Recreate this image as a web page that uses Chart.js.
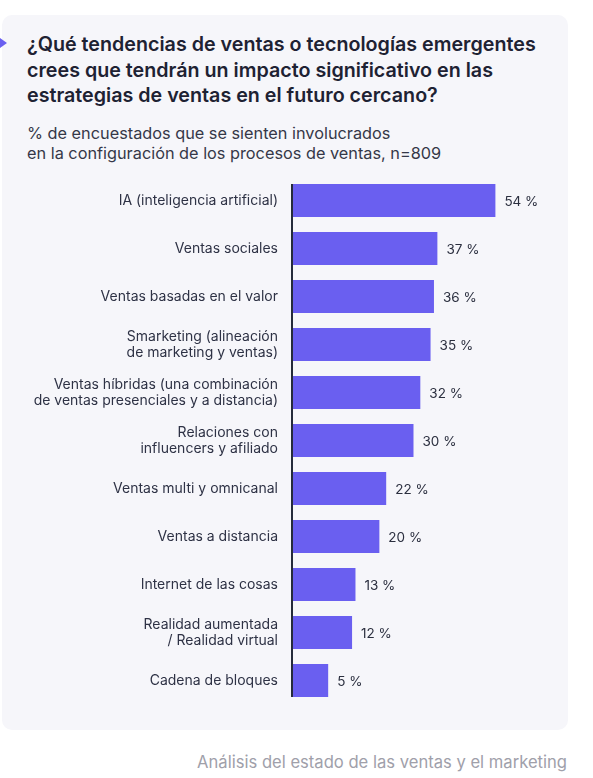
<!DOCTYPE html>
<html>
<head>
<meta charset="utf-8">
<script src="https://cdn.jsdelivr.net/npm/chart.js@4.4.1/dist/chart.umd.min.js"></script>
<style>
  body { margin: 0; background: #fff; font-family: Inter, "Noto Sans", sans-serif; }
  #card { position: absolute; left: 2px; top: 15px; width: 566px; height: 715px; background: #f6f6fa; border-radius: 10px; }
  #arrow { position: absolute; left: 0; top: 38px; width: 0; height: 0; border-top: 5px solid transparent; border-bottom: 5px solid transparent; border-left: 7px solid #6a5ff0; }
  #title { position: absolute; left: 27px; top: 32px; font-size: 19.7px; line-height: 25.5px; font-weight: 600; color: #1e2233; white-space: nowrap; }
  #subtitle { position: absolute; left: 27px; top: 123px; font-size: 16.3px; line-height: 20px; color: #353848; white-space: nowrap; }
  #footer { position: absolute; right: 26px; top: 751px; font-size: 16.6px; line-height: 22px; color: #a0a0aa; white-space: nowrap; }
  #wrap { position: absolute; left: 0; top: 170px; width: 568px; height: 545px; }
</style>
</head>
<body>
<div id="card"></div>
<div id="arrow"></div>
<div id="title">¿Qué tendencias de ventas o tecnologías emergentes<br>crees que tendrán un impacto significativo en las<br>estrategias de ventas en el futuro cercano?</div>
<div id="subtitle">% de encuestados que se sienten involucrados<br>en la configuración de los procesos de ventas, n=809</div>
<div id="wrap"><canvas id="chart"></canvas></div>
<div id="footer">Análisis del estado de las ventas y el marketing</div>
<script>
// Data
const categories = [
  "IA (inteligencia artificial)",
  "Ventas sociales",
  "Ventas basadas en el valor",
  ["Smarketing (alineación", "de marketing y ventas)"],
  ["Ventas híbridas (una combinación", "de ventas presenciales y a distancia)"],
  ["Relaciones con", "influencers y afiliado"],
  "Ventas multi y omnicanal",
  "Ventas a distancia",
  "Internet de las cosas",
  ["Realidad aumentada", "/ Realidad virtual"],
  "Cadena de bloques"
];
const percentages = [54, 37, 36, 35, 32, 30, 22, 20, 13, 12, 5];

const barColor = "#6a5ff0";
const axisMin = -5.6;

// vertical axis line only as tall as the bars
const axisLine = {
  id: "axisLine",
  afterDatasetsDraw(chart) {
    const bars = chart.getDatasetMeta(0).data;
    const first = bars[0], last = bars[bars.length - 1];
    const ctx = chart.ctx;
    ctx.save();
    ctx.strokeStyle = "#252b3b";
    ctx.lineWidth = 2;
    ctx.beginPath();
    ctx.moveTo(chart.chartArea.left, first.y - first.height / 2);
    ctx.lineTo(chart.chartArea.left, last.y + last.height / 2);
    ctx.stroke();
    ctx.restore();
  }
};

// value labels at the end of each bar
const valueLabels = {
  id: "valueLabels",
  afterDatasetsDraw(chart) {
    const ctx = chart.ctx;
    ctx.save();
    ctx.font = "13.5px Inter, 'Noto Sans', sans-serif";
    ctx.fillStyle = "#2b2f3f";
    ctx.textBaseline = "middle";
    chart.getDatasetMeta(0).data.forEach((bar, i) => {
      ctx.fillText(percentages[i] + " %", bar.x + 9, bar.y + 1);
    });
    ctx.restore();
  }
};

new Chart(document.getElementById("chart"), {
  type: "bar",
  data: {
    labels: categories,
    datasets: [{
      data: percentages,
      base: axisMin,
      backgroundColor: barColor,
      borderWidth: 0,
      categoryPercentage: 1,
      barPercentage: 0.69
    }]
  },
  options: {
    indexAxis: "y",
    responsive: true,
    maintainAspectRatio: false,
    animation: false,
    layout: { padding: { top: 6.5, bottom: 10.5, right: 18 } },
    plugins: { legend: { display: false }, tooltip: { enabled: false } },
    scales: {
      x: { display: false, min: axisMin, max: 70 },
      y: {
        grid: { display: false, drawTicks: false },
        border: { display: false },
        ticks: {
          padding: 14,
          color: "#2e3245",
          font: { family: "Inter, 'Noto Sans', sans-serif", size: 14, lineHeight: 1.15 }
        },
        afterFit(scale) {
          scale.width = 292;
          scale.paddingTop = 0;
          scale.paddingBottom = 0;
        }
      }
    }
  },
  plugins: [axisLine, valueLabels]
});
</script>
</body>
</html>
